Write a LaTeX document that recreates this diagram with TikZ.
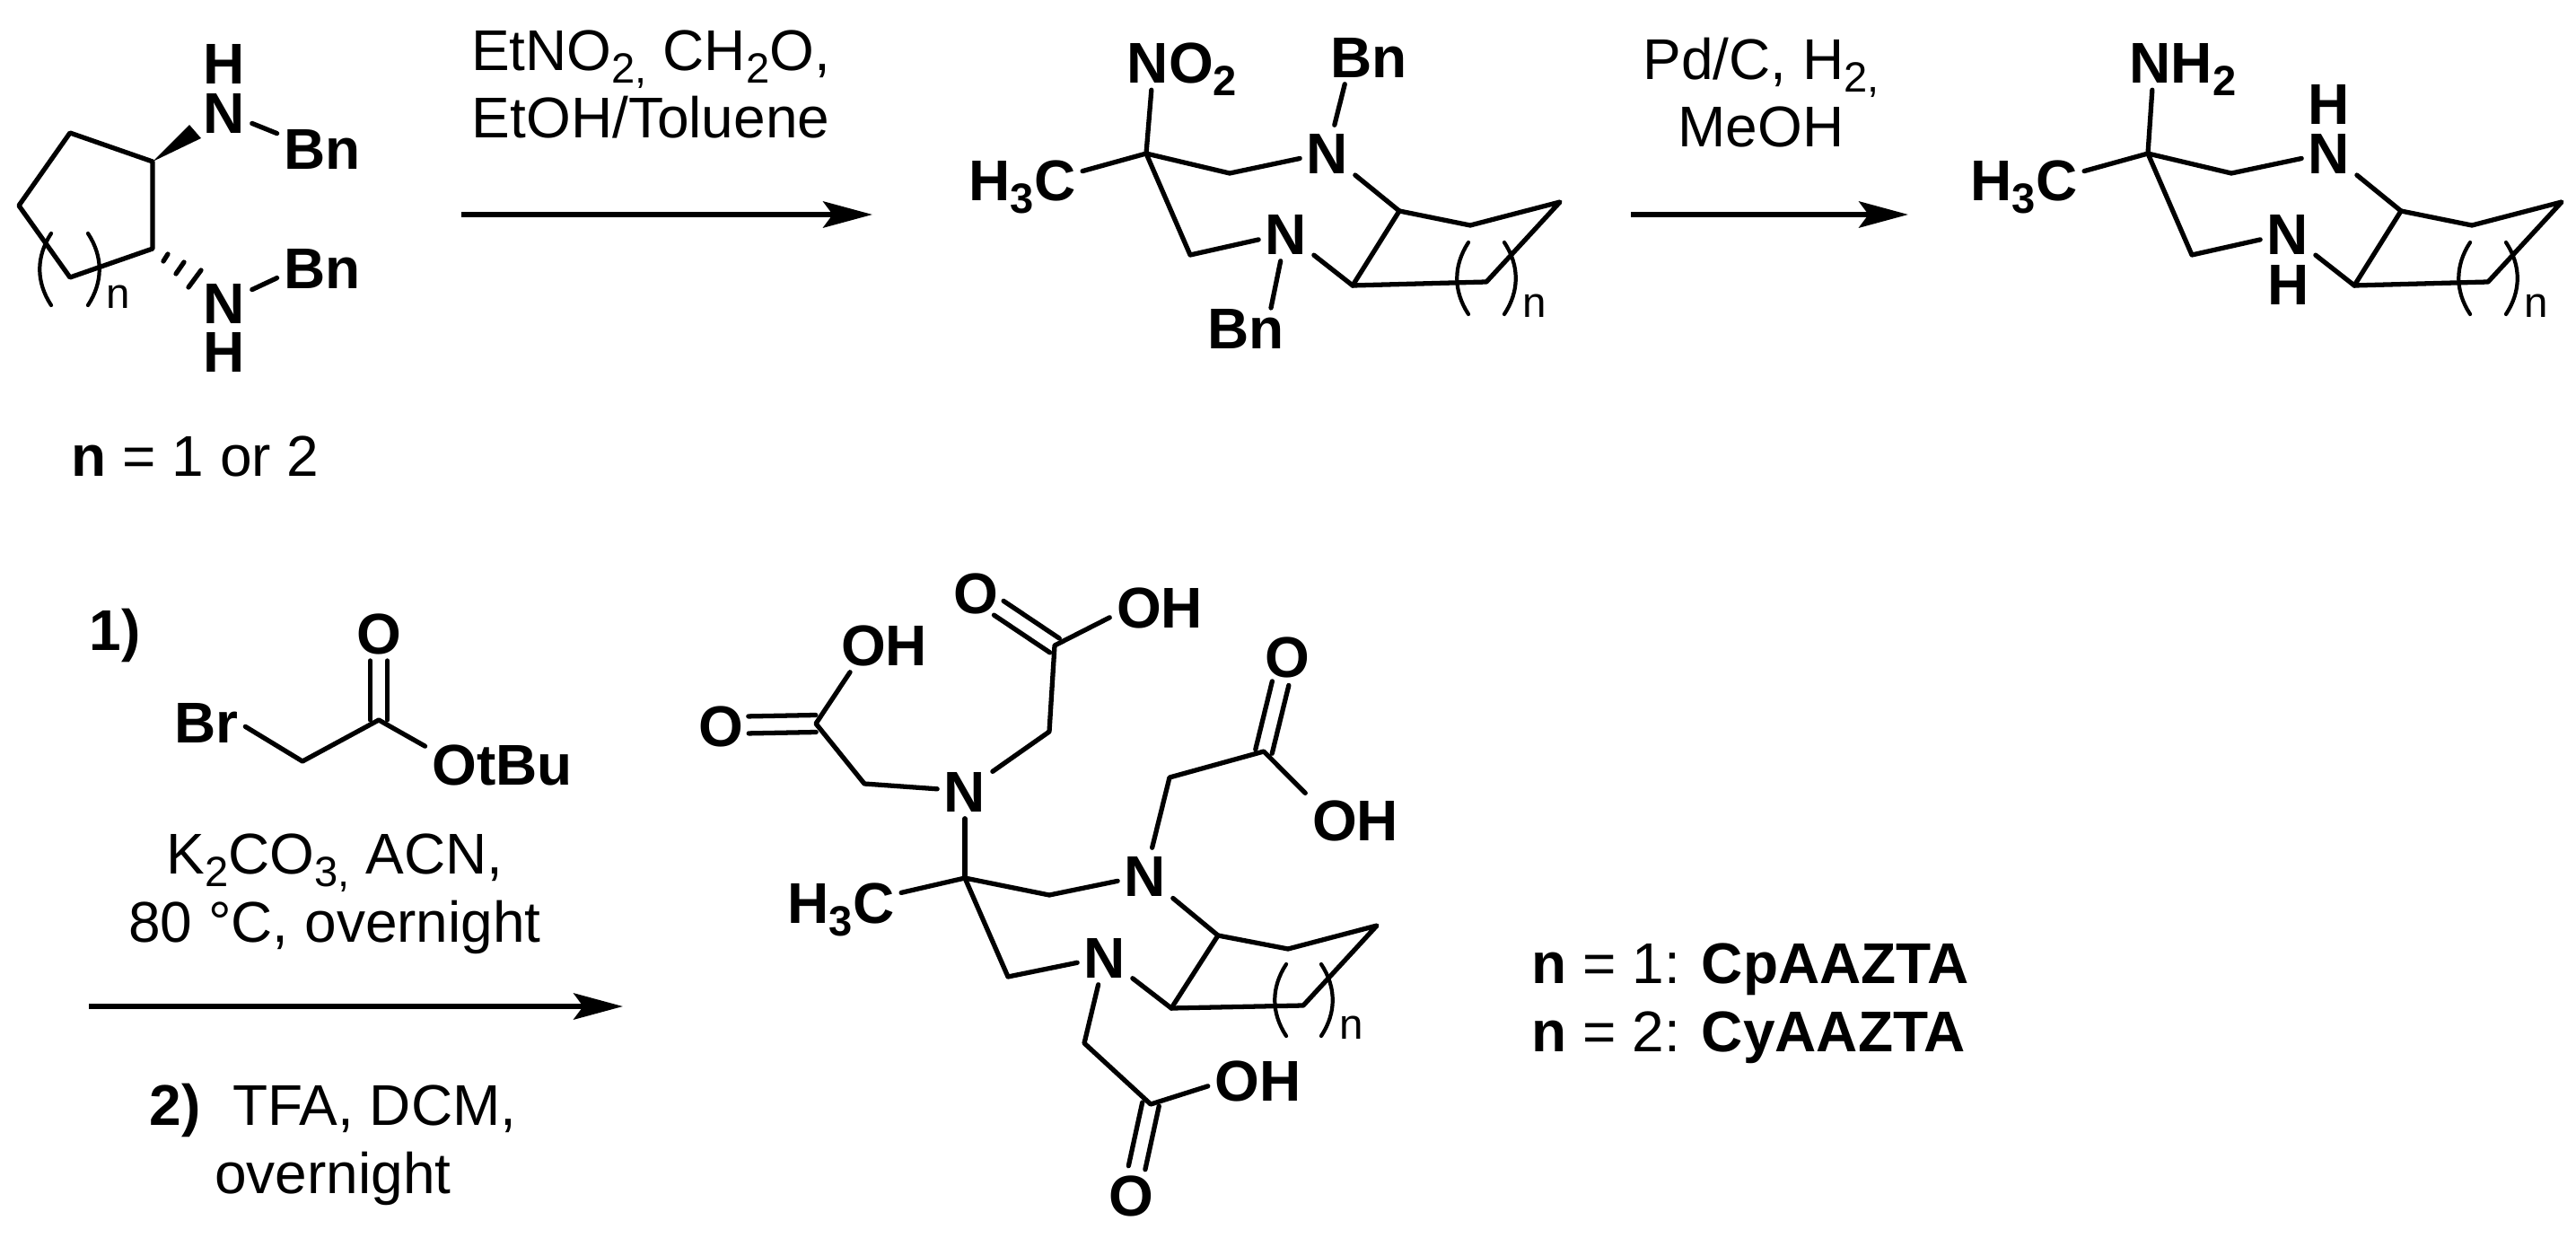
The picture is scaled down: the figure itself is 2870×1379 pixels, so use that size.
\documentclass[tikz,border=0pt]{standalone}
\usepackage{fontspec}
\setmainfont{Liberation Sans}
\usetikzlibrary{arrows.meta,calc}
\newcommand{\atomfont}{\fontsize{18.2pt}{21.6pt}\selectfont\bfseries}
\newcommand{\plainfont}{\fontsize{18.2pt}{21.6pt}\selectfont}
\newcommand{\subn}[1]{\raisebox{-0.14cm}{\fontsize{13.4pt}{14pt}\selectfont #1}}
\tikzset{
  bond/.style={line width=1.5pt, line cap=round, line join=round},
  paren/.style={line width=1.2pt, line cap=round},
  rxn/.style={-{Stealth[length=15.6pt,width=8.3pt,inset=3pt]}, line width=1.7pt},
  atom/.style={font=\atomfont, inner xsep=2pt, inner ysep=2pt, text height=13.1pt, text depth=0pt},
  hatom/.style={atom, inner ysep=0pt},
  reagent/.style={font=\plainfont, align=center, inner sep=0pt, anchor=base},
  caption/.style={font=\plainfont, inner sep=0pt, anchor=base west},
  nlabel/.style={font=\fontsize{13.5pt}{14pt}\selectfont, inner sep=0pt}
}
\newcommand{\DrawParens}[4]{% name,xleft,xright,ymid
  \draw[paren] ({#2+13},{#4-40}) .. controls ({#2-4},{#4-14}) and ({#2-4},{#4+14}) .. ({#2+13},{#4+40});
  \draw[paren] ({#3-13},{#4-40}) .. controls ({#3+4},{#4-14}) and ({#3+4},{#4+14}) .. ({#3-13},{#4+40});
  \node[nlabel] (#1) at ({#3+21},{#4+31}) {n};
}
\newcommand{\DrawCarbonyl}[2]{% carbon,oxygen
  \coordinate (co) at ($(#2)!0.31cm!(#1)$);
  \draw[bond] ($(co)!0.095cm!90:(#2)$) -- ($(#1)!0.095cm!90:(#2)$);
  \draw[bond] ($(co)!0.095cm!-90:(#2)$) -- ($(#1)!0.095cm!-90:(#2)$);
}
\newcommand{\DrawCore}[2]{% prefix,x offset
  \begin{scope}[shift={(#2,0)}]
    \node[atom] (#1h3c) at (1139,200) {H\subn{3}C};
    \node[atom] (#1nu) at (1479,170) {N};
    \node[atom] (#1nd) at (1433,260) {N};
    \coordinate (#1q) at (1277,171);
    \coordinate (#1ma) at (1370,193);
    \coordinate (#1mb) at (1326,284);
    \coordinate (#1r1) at (1559,235);
    \coordinate (#1r2) at (1507,318);
    \coordinate (#1r3) at (1638,251);
    \coordinate (#1r4) at (1738,225);
    \coordinate (#1r5) at (1656,314);
    \draw[bond] (#1h3c.8) -- (#1q);
    \draw[bond] (#1q) -- (#1ma) -- (#1nu);
    \draw[bond] (#1q) -- (#1mb) -- (#1nd);
    \draw[bond] (#1nu) -- (#1r1);
    \draw[bond] (#1nd) -- (#1r2);
    \draw[bond] (#1r1) -- (#1r2);
    \draw[bond] (#1r1) -- (#1r3) -- (#1r4) -- (#1r5) -- (#1r2);
    \DrawParens{#1n}{1623}{1689}{310}
  \end{scope}
}

\begin{document}
\begin{tikzpicture}[x=0.01cm,y=-0.01cm]
  \useasboundingbox (0,0) rectangle (2870,1379);

  % Starting diamine
  \coordinate (ac1) at (170,180);
  \coordinate (ac2) at (170,277);
  \coordinate (ac3) at (78,309);
  \coordinate (ac4) at (21,229);
  \coordinate (ac5) at (78,148);
  \draw[bond] (ac1) -- (ac2) -- (ac3) -- (ac4) -- (ac5) -- cycle;
  \node[hatom] (ah1) at (250,70) {H};
  \node[atom] (anu) at (250,125) {N};
  \node[atom] (abu) at (359,165) {Bn};
  \node[atom] (and) at (250,337) {N};
  \node[hatom] (ah2) at (250,391) {H};
  \node[atom] (abd) at (359,298) {Bn};
  \coordinate (awa) at (211,139);
  \coordinate (awb) at (224,154);
  \fill (ac1) -- (awa) -- (awb) -- cycle;
  \foreach \xa/\ya/\xb/\yb in {182/291/187/283, 196/305/205/292, 210/320/224/301}
    \draw[bond] (\xa,\ya) -- (\xb,\yb);
  \draw[bond] (anu) -- (abu.162);
  \draw[bond] (and) -- (abd.193);
  \DrawParens{an}{44}{111}{300}
  \node[caption] (acap) at (79,530) {\textbf{n} = 1 or 2};

  % First step
  \node[reagent] (rg1) at (725,154) {EtNO\subn{2,} CH\subn{2}O,\\EtOH/Toluene};
  \coordinate (a1s) at (514,239);
  \coordinate (a1e) at (972,239);
  \draw[rxn] (a1s) -- (a1e);

  % Nitro compound
  \DrawCore{b}{0}
  \node[atom] (bno2) at (1317,69.5) {NO\subn{2}};
  \node[atom] (bbu) at (1525,63) {Bn};
  \node[atom] (bbd) at (1388,365) {Bn};
  \draw[bond] (bq) -- (bno2.222);
  \draw[bond] (bnu) -- (bbu.229);
  \draw[bond] (bnd) -- ($(bbd.center)+(28,-22)$);

  % Second step
  \node[reagent] (rg2) at (1962,164) {Pd/C, H\subn{2,}\\MeOH};
  \coordinate (a2s) at (1817,239);
  \coordinate (a2e) at (2126,239);
  \draw[rxn] (a2s) -- (a2e);

  % Amine
  \DrawCore{c}{1116}
  \node[atom] (cnh2) at (2432,69.5) {NH\subn{2}};
  \node[hatom] (chu) at (2595,115) {H};
  \node[hatom] (chd) at (2550,316) {H};
  \draw[bond] (cq) -- (cnh2.222);

  % Third step
  \node[caption,font=\atomfont] (one) at (99,724) {1)};
  \node[atom] (broh) at (230,804) {Br};
  \node[atom] (bro) at (422,705) {O};
  \node[atom] (brot) at (559.5,851) {OtBu};
  \coordinate (brk) at (337,848);
  \coordinate (brc) at (422,802);
  \draw[bond] (broh.353) -- (brk) -- (brc) -- (brot.167);
  \DrawCarbonyl{brc}{bro}
  \node[reagent] (rg3) at (373,1049) {K\subn{2}CO\subn{3,} ACN,\\80 °C, overnight};
  \coordinate (a3s) at (99,1121);
  \coordinate (a3e) at (694,1121);
  \draw[rxn] (a3s) -- (a3e);
  \node[reagent] (rg4) at (371,1329) {\textbf{2)}\ \ TFA, DCM,\\overnight};

  % Tetraacid
  \node[atom] (dh3c) at (937,1005) {H\subn{3}C};
  \node[atom] (dna) at (1075,881) {N};
  \node[atom] (dnb) at (1276,975) {N};
  \node[atom] (dnc) at (1231,1066) {N};
  \coordinate (dq) at (1075,978);
  \coordinate (dma) at (1169,997);
  \coordinate (dmb) at (1123,1088);
  \coordinate (dr1) at (1357,1042);
  \coordinate (dr2) at (1305,1123);
  \coordinate (dr3) at (1435,1057);
  \coordinate (dr4) at (1534,1031);
  \coordinate (dr5) at (1452,1120);
  \draw[bond] (dh3c.9) -- (dq);
  \draw[bond] (dna) -- (dq);
  \draw[bond] (dq) -- (dma) -- (dnb);
  \draw[bond] (dq) -- (dmb) -- (dnc);
  \draw[bond] (dnb) -- (dr1);
  \draw[bond] (dnc) -- (dr2);
  \draw[bond] (dr1) -- (dr2);
  \draw[bond] (dr1) -- (dr3) -- (dr4) -- (dr5) -- (dr2);
  \DrawParens{dn}{1420}{1485}{1114}
  % acid arms
  \node[atom] (do1) at (1087,660) {O};
  \node[atom] (doh1) at (1292,676) {OH};
  \coordinate (dk1) at (1175,719);
  \coordinate (dc1) at (1169,815);
  \draw[bond] (dna) -- (dc1) -- (dk1) -- (doh1.192);
  \DrawCarbonyl{dk1}{do1}
  \node[atom] (do2) at (803,808) {O};
  \node[atom] (doh2) at (985,718) {OH};
  \coordinate (dk2) at (909,806);
  \coordinate (dc2) at (963,873);
  \draw[bond] (dna) -- (dc2) -- (dk2) -- (doh2.219);
  \DrawCarbonyl{dk2}{do2}
  \node[atom] (do3) at (1434,731) {O};
  \node[atom] (doh3) at (1510,913) {OH};
  \coordinate (dk3) at (1408,837);
  \coordinate (dc3) at (1303,866);
  \draw[bond] (dnb) -- (dc3) -- (dk3) -- (doh3.152);
  \DrawCarbonyl{dk3}{do3}
  \node[atom] (do4) at (1260,1331) {O};
  \node[atom] (doh4) at (1401.5,1203) {OH};
  \coordinate (dk4) at (1282,1230);
  \coordinate (dc4) at (1208,1162);
  \draw[bond] (dnc) -- (dc4) -- (dk4) -- (doh4.187);
  \DrawCarbonyl{dk4}{do4}

  \node[caption] (lcp) at (1706,1095) {\textbf{n} = 1: \textbf{CpAAZTA}};
  \node[caption] (lcy) at (1706,1171) {\textbf{n} = 2: \textbf{CyAAZTA}};
\end{tikzpicture}
\end{document}
